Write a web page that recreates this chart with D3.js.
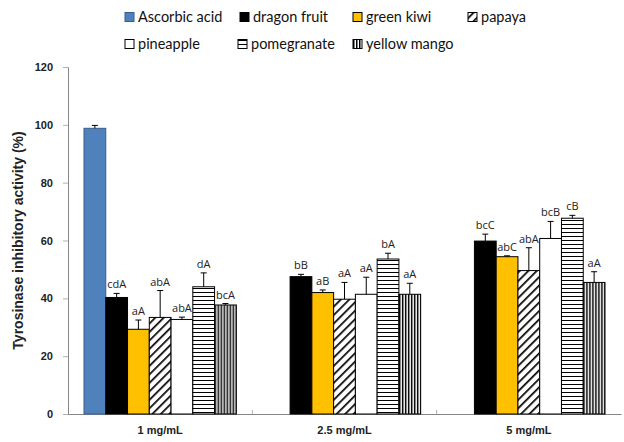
<!DOCTYPE html>
<html>
<head>
<meta charset="utf-8">
<script src="https://cdn.jsdelivr.net/npm/d3@7"></script>
<style>
  body { margin: 0; background: #fff; }
</style>
</head>
<body>
<svg id="chart" width="624" height="442"></svg>
<script>
// data
var doses = ["1 mg/mL", "2.5 mg/mL", "5 mg/mL"];
var samples = ["Ascorbic acid", "dragon fruit", "green kiwi", "papaya", "pineapple", "pomegranate", "yellow mango"];
var yTicks = [0, 20, 40, 60, 80, 100, 120];

// one array per dose, ordered as samples (null = not measured)
var means1 = [98.8, 40.3, 29.3, 33.4, 32.7, 44.0, 37.7];
var means25 = [null, 47.5, 42.0, 39.7, 41.4, 53.6, 41.4];
var means5 = [null, 59.8, 54.4, 49.6, 60.7, 67.7, 45.5];

var err1 = [1.0, 1.4, 3.2, 9.3, 0.8, 4.8, 0.5];
var err25 = [null, 0.8, 0.9, 5.8, 5.9, 2.0, 3.8];
var err5 = [null, 2.4, 0.3, 7.9, 5.9, 1.0, 3.7];

var letters1 = ["", "cdA", "aA", "abA", "abA", "dA", "bcA"];
var letters25 = ["", "bB", "aB", "aA", "aA", "bA", "aA"];
var letters5 = ["", "bcC", "abC", "abA", "bcB", "cB", "aA"];

var means = [means1, means25, means5];
var errs = [err1, err25, err5];
var letters = [letters1, letters25, letters5];

var svg = d3.select("#chart");

// patterns for the hatched bars
var defs = svg.append("defs");
var diag = defs.append("pattern").attr("id", "p-diag")
  .attr("patternUnits", "userSpaceOnUse").attr("width", 6).attr("height", 6)
  .attr("patternTransform", "rotate(45)");
diag.append("rect").attr("width", 6).attr("height", 6).attr("fill", "#fff");
diag.append("line").attr("x1", 0).attr("y1", 0).attr("x2", 0).attr("y2", 6)
  .attr("stroke", "#000").attr("stroke-width", 3.4);

var horiz = defs.append("pattern").attr("id", "p-horiz")
  .attr("patternUnits", "userSpaceOnUse").attr("width", 4).attr("height", 4);
horiz.append("rect").attr("width", 4).attr("height", 4).attr("fill", "#fff");
horiz.append("line").attr("x1", 0).attr("y1", 0.5).attr("x2", 4).attr("y2", 0.5)
  .attr("stroke", "#000").attr("stroke-width", 1);

var vert = defs.append("pattern").attr("id", "p-vert")
  .attr("patternUnits", "userSpaceOnUse").attr("width", 3).attr("height", 4);
vert.append("rect").attr("width", 3).attr("height", 4).attr("fill", "#fff");
vert.append("rect").attr("x", 0).attr("y", 0).attr("width", 1.5).attr("height", 4)
  .attr("fill", "#000");

var fills = ["#4f81bd", "#000000", "#ffc000", "url(#p-diag)", "#ffffff", "url(#p-horiz)", "url(#p-vert)"];

// plot area
var padL = 68, padR = 621, padT = 67, padB = 414;

var x0 = d3.scaleBand().domain(doses).range([padL, padR]);
var x1 = d3.scaleBand().domain(samples).range([16, x0.bandwidth() - 16]);
var y = d3.scaleLinear().domain([0, 120]).range([padB, padT]);

// y axis
var yAxis = d3.axisLeft(y).tickValues(yTicks).tickSize(5).tickPadding(10);
var gy = svg.append("g").attr("transform", "translate(" + padL + ",0)").call(yAxis);
gy.select(".domain").attr("stroke", "#868686");
gy.selectAll(".tick line").attr("stroke", "#b0b0b0");
gy.selectAll("text").attr("font-family", "'Liberation Sans', Arial, sans-serif")
  .attr("font-size", 11).attr("font-weight", "bold").attr("fill", "#222");

// x axis
var xAxis = d3.axisBottom(x0).tickSize(0).tickPadding(12);
var gx = svg.append("g").attr("transform", "translate(0," + padB + ")").call(xAxis);
gx.select(".domain").attr("stroke", "#868686");
gx.selectAll("text").attr("font-family", "'Liberation Sans', Arial, sans-serif")
  .attr("font-size", 11).attr("font-weight", "bold").attr("fill", "#222");

// small category separators
svg.append("g").selectAll("line")
  .data(doses.slice(1))
  .enter().append("line")
  .attr("x1", function(d) { return x0(d); })
  .attr("x2", function(d) { return x0(d); })
  .attr("y1", padB - 4).attr("y2", padB)
  .attr("stroke", "#b0b0b0");

// y axis title
svg.append("text")
  .attr("transform", "translate(23," + ((padT + padB) / 2) + ") rotate(-90)")
  .attr("text-anchor", "middle")
  .attr("font-family", "'Liberation Sans', Arial, sans-serif")
  .attr("font-size", 14).attr("font-weight", "bold").attr("fill", "#222")
  .text("Tyrosinase inhibitory activity (%)");

// bars
var rows = [];
doses.forEach(function(dose, di) {
  samples.forEach(function(s, si) {
    if (means[di][si] == null) return;
    rows.push({ dose: dose, sample: s, si: si, v: means[di][si], e: errs[di][si], lab: letters[di][si] });
  });
});

var bw = x1.bandwidth();

var bar = svg.append("g").selectAll("g")
  .data(rows)
  .enter().append("g")
  .attr("transform", function(d) { return "translate(" + (x0(d.dose) + x1(d.sample)) + ",0)"; });

bar.append("rect")
  .attr("y", function(d) { return y(d.v); })
  .attr("width", bw)
  .attr("height", function(d) { return padB - y(d.v); })
  .attr("fill", function(d) { return fills[d.si]; })
  .attr("stroke", function(d) { return d.si === 0 ? "#385d8a" : "#000"; })
  .attr("stroke-width", 1);

bar.append("line")
  .attr("x1", bw / 2).attr("x2", bw / 2)
  .attr("y1", function(d) { return y(d.v); })
  .attr("y2", function(d) { return y(d.v + d.e); })
  .attr("stroke", "#000");

bar.append("line")
  .attr("x1", bw / 2 - 3).attr("x2", bw / 2 + 3)
  .attr("y1", function(d) { return y(d.v + d.e); })
  .attr("y2", function(d) { return y(d.v + d.e); })
  .attr("stroke", "#000");

bar.append("text")
  .attr("x", bw / 2)
  .attr("y", function(d) { return y(d.v + d.e) - 5; })
  .attr("text-anchor", "middle")
  .attr("font-family", "'Open Sans', sans-serif")
  .attr("font-size", 11).attr("fill", "#222")
  .text(function(d) { return d.lab; });

// legend
var legendPos = [[125, 17], [240, 17], [353, 17], [468, 17], [125, 44], [238, 44], [353, 44]];
var leg = svg.append("g").selectAll("g")
  .data(samples)
  .enter().append("g")
  .attr("transform", function(d, i) { return "translate(" + legendPos[i][0] + "," + legendPos[i][1] + ")"; });

leg.append("rect")
  .attr("x", 0).attr("y", -4.5).attr("width", 9).attr("height", 9)
  .attr("fill", function(d, i) { return fills[i]; })
  .attr("stroke", function(d, i) { return i === 0 ? "#385d8a" : "#000"; });

leg.append("text")
  .attr("x", 13).attr("y", 5)
  .attr("font-family", "Lato, sans-serif")
  .attr("font-size", 14.5).attr("fill", "#111")
  .text(function(d) { return d; });
</script>
</body>
</html>
